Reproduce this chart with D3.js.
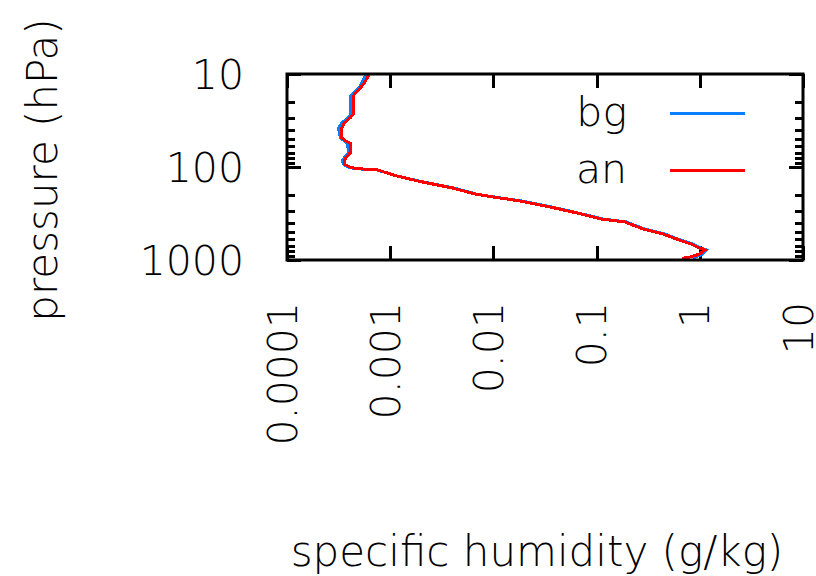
<!DOCTYPE html>
<html>
<head>
<meta charset="utf-8">
<script src="https://cdn.jsdelivr.net/npm/d3@7"></script>
<style>
  body { margin: 0; background: #fff; }
  text { font-family: "DejaVu Sans", sans-serif; font-weight: 200; fill: #000; }
</style>
</head>
<body>
<script>
//Vertical profile of specific humidity, background vs analysis,
//log pressure axis against log humidity axis

//Declares global variables
var W = 816;
var H = 576;
var Left = 287, Right = 803, Top = 74, Bottom = 260;
var FontSize = 41;

//Pressure levels (hPa)
var pressure = [10.25, 12.1, 13.5, 14.6, 15.7, 17.2, 26.9, 29.2, 31.2, 33.4,
                38.1, 48.8, 52.5, 55.2, 70.7, 76.2, 84.1, 92.9, 99.2, 103.8,
                107.7, 125, 145, 168, 195, 209, 232, 269, 312, 362,
                390, 464, 525, 610, 673, 725, 780, 861, 929, 964];
//Specific humidity (g/kg), background
var bg = [5.8e-4, 5.4e-4, 5.1e-4, 4.8e-4, 4.5e-4, 4.15e-4, 4.15e-4, 3.95e-4, 3.7e-4, 3.4e-4,
          3.15e-4, 3.3e-4, 3.6e-4, 3.85e-4, 3.95e-4, 3.7e-4, 3.45e-4, 3.5e-4, 3.85e-4, 4.4e-4,
          7.5e-4, 1.17e-3, 2.1e-3, 4.1e-3, 6.8e-3, 9.9e-3, 0.0187, 0.0365, 0.066, 0.114,
          0.194, 0.29, 0.455, 0.65, 0.85, 0.97, 1.16, 1.06, 0.92, 0.86];
//Specific humidity (g/kg), analysis
var an = [6.2e-4, 5.7e-4, 5.3e-4, 5.0e-4, 4.66e-4, 4.4e-4, 4.4e-4, 4.14e-4, 3.87e-4, 3.59e-4,
          3.39e-4, 3.39e-4, 3.73e-4, 4.08e-4, 4.08e-4, 3.84e-4, 3.59e-4, 3.59e-4, 3.99e-4, 4.56e-4,
          7.6e-4, 1.16e-3, 2.05e-3, 4.0e-3, 6.6e-3, 9.6e-3, 0.0181, 0.0353, 0.0641, 0.110,
          0.188, 0.282, 0.440, 0.629, 0.822, 0.94, 1.12, 1.00, 0.80, 0.67];

var xTicks = [0.0001, 0.001, 0.01, 0.1, 1, 10];
var xTickLabels = ["0.0001", "0.001", "0.01", "0.1", "1", "10"];
var yTicks = [10, 100, 1000];
var yMinor = [20, 30, 40, 50, 60, 70, 80, 90, 200, 300, 400, 500, 600, 700, 800, 900];

var seriesNames = ["bg", "an"];
var seriesColors = ["#0a80ff", "#ff0000"];

function main() {
  var svg = d3.select("body").append("svg")
    .attr("width", W)
    .attr("height", H);

  var xScale = d3.scaleLog().domain([1e-4, 10]).range([Left, Right]);
  var yScale = d3.scaleLog().domain([10, 1000]).range([Top, Bottom]);

  drawAxes(svg, xScale, yScale);

  //Draws bg first so the analysis sits on top
  var line = d3.line()
    .x(function(d) { return xScale(d[0]); })
    .y(function(d) { return yScale(d[1]); });
  [bg, an].forEach(function(s, i) {
    svg.append("path")
      .datum(d3.zip(s, pressure))
      .attr("d", line)
      .attr("fill", "none")
      .attr("stroke", seriesColors[i])
      .attr("stroke-width", 3)
      .attr("shape-rendering", "crispEdges");
  });

  //Frame on top of everything
  svg.append("rect")
    .attr("x", Left).attr("y", Top)
    .attr("width", Right - Left).attr("height", Bottom - Top)
    .attr("fill", "none").attr("stroke", "#000").attr("stroke-width", 3);

  legend(svg);

  //Axis titles
  svg.append("text")
    .attr("x", 537).attr("y", 566)
    .attr("text-anchor", "middle")
    .style("font-size", "42px")
    .text("specific humidity (g/kg)");
  svg.append("text")
    .attr("transform", "translate(57,170) rotate(-90)")
    .attr("text-anchor", "middle")
    .style("font-size", "42px")
    .text("pressure (hPa)");
}

function drawAxes(svg, xScale, yScale) {
  //Major and minor ticks on all four sides, pointing inward
  function put(axis, tx, ty) {
    var g = svg.append("g")
      .attr("transform", "translate(" + tx + "," + ty + ")")
      .call(axis);
    g.select(".domain").remove();
    g.selectAll("line").attr("stroke", "#000").attr("stroke-width", 3)
      .attr("shape-rendering", "crispEdges");
    return g;
  }

  var gy = put(d3.axisLeft(yScale).tickValues(yTicks).tickSize(-14).tickPadding(43)
    .tickFormat(d3.format("d")), Left, 0);
  gy.selectAll("text").attr("dy", null).attr("y", 14).style("font-size", FontSize + "px");
  put(d3.axisLeft(yScale).tickValues(yMinor).tickSize(-8).tickFormat(""), Left, 0);
  put(d3.axisRight(yScale).tickValues(yTicks).tickSize(-14).tickFormat(""), Right, 0);
  put(d3.axisRight(yScale).tickValues(yMinor).tickSize(-8).tickFormat(""), Right, 0);

  var gx = put(d3.axisBottom(xScale).tickValues(xTicks).tickSize(-14)
    .tickFormat(function(d, i) { return xTickLabels[i]; }), 0, Bottom);
  gx.selectAll("text")
    .attr("transform", "rotate(-90)")
    .attr("text-anchor", "end")
    .attr("dy", null)
    .attr("x", -42)
    .attr("y", 9)
    .style("font-size", FontSize + "px");
  put(d3.axisTop(xScale).tickValues(xTicks).tickSize(-14).tickFormat(""), 0, Top);
}

function legend(svg) {
  var rows = [125.5, 183];
  seriesNames.forEach(function(name, i) {
    svg.append("text")
      .attr("x", 627).attr("y", rows[i])
      .attr("text-anchor", "end")
      .style("font-size", FontSize + "px")
      .text(name);
    svg.append("line")
      .attr("x1", 670).attr("x2", 745)
      .attr("y1", rows[i] - 12.5).attr("y2", rows[i] - 12.5)
      .attr("stroke", seriesColors[i])
      .attr("stroke-width", 3)
      .attr("shape-rendering", "crispEdges");
  });
}

main();
</script>
</body>
</html>
